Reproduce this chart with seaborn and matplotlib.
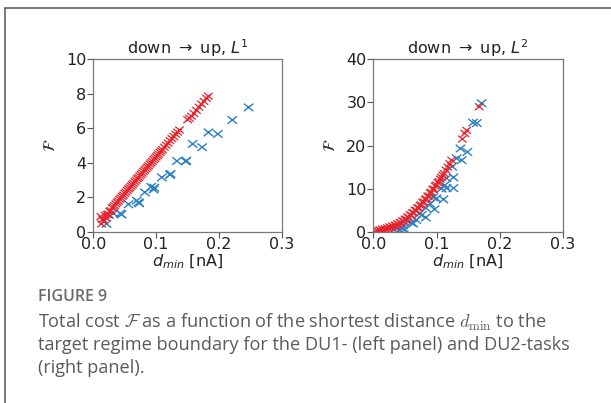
import matplotlib
matplotlib.use("Agg")
import matplotlib.pyplot as plt
from matplotlib.lines import Line2D
from matplotlib.path import Path
import seaborn as sns
import pandas as pd

# ---- DU1 task (L1 cost) ----
l1_red_d = [0.012, 0.013, 0.015, 0.017, 0.019, 0.020, 0.022, 0.024, 0.026, 0.028,
            0.030, 0.032, 0.034, 0.036, 0.038, 0.040, 0.042, 0.044, 0.046, 0.048,
            0.050, 0.052, 0.054, 0.056, 0.058, 0.060, 0.062, 0.064, 0.066, 0.068,
            0.070, 0.072, 0.074, 0.076, 0.078, 0.080, 0.082, 0.084, 0.086, 0.088,
            0.090, 0.092, 0.094, 0.096, 0.098, 0.100, 0.102, 0.104, 0.106, 0.108,
            0.110, 0.113, 0.116, 0.119, 0.122, 0.125, 0.128, 0.131, 0.134, 0.137,
            0.150, 0.153, 0.156, 0.160, 0.164, 0.168, 0.172, 0.176, 0.180, 0.183]
l1_red_F = [0.88, 0.45, 0.72, 0.62, 0.95, 0.80, 1.00, 1.02, 1.18, 1.22,
            1.38, 1.44, 1.52, 1.62, 1.71, 1.78, 1.88, 1.96, 2.05, 2.12,
            2.22, 2.30, 2.40, 2.48, 2.55, 2.64, 2.72, 2.80, 2.90, 2.98,
            3.08, 3.14, 3.24, 3.32, 3.40, 3.50, 3.58, 3.66, 3.75, 3.82,
            3.92, 4.00, 4.08, 4.18, 4.26, 4.34, 4.42, 4.50, 4.60, 4.68,
            4.76, 4.90, 5.02, 5.14, 5.28, 5.40, 5.52, 5.66, 5.78, 5.90,
            6.50, 6.58, 6.70, 6.86, 7.04, 7.22, 7.40, 7.56, 7.74, 7.86]
l1_blue_d = [0.021, 0.025, 0.032, 0.043, 0.045, 0.056, 0.069, 0.072, 0.073, 0.082,
             0.092, 0.096, 0.097, 0.109, 0.122, 0.123, 0.133, 0.147, 0.148, 0.158,
             0.173, 0.183, 0.198, 0.221, 0.247]
l1_blue_F = [0.45, 0.97, 1.07, 1.05, 1.00, 1.59, 1.80, 1.70, 1.65, 2.28,
             2.60, 2.45, 2.55, 3.15, 3.30, 3.35, 4.10, 4.08, 4.12, 5.09,
             4.90, 5.76, 5.67, 6.48, 7.21]

# ---- DU2 task (L2 cost) ----
l2_red_d = [0.003, 0.006, 0.008, 0.010, 0.012, 0.014, 0.016, 0.018, 0.020, 0.022,
            0.024, 0.026, 0.028, 0.030, 0.032, 0.034, 0.036, 0.038, 0.040, 0.042,
            0.044, 0.046, 0.048, 0.050, 0.052, 0.054, 0.056, 0.058, 0.060, 0.062,
            0.064, 0.066, 0.068, 0.070, 0.072, 0.074, 0.076, 0.078, 0.080, 0.082,
            0.084, 0.086, 0.088, 0.090, 0.092, 0.094, 0.096, 0.098, 0.100, 0.102,
            0.104, 0.106, 0.108, 0.110, 0.112, 0.115, 0.118, 0.121, 0.124, 0.141,
            0.145, 0.148, 0.168]
l2_red_F = [0.05, 0.30, 0.10, 0.45, 0.20, 0.60, 0.35, 0.70, 0.50, 0.90,
            0.70, 1.10, 0.90, 1.30, 1.10, 1.50, 1.40, 1.80, 1.70, 2.10,
            2.05, 2.50, 2.45, 2.90, 2.90, 3.40, 3.35, 3.90, 3.85, 4.40,
            4.40, 4.95, 4.95, 5.50, 5.55, 6.10, 6.20, 6.80, 6.90, 7.50,
            7.60, 8.20, 8.30, 9.00, 9.10, 9.80, 9.90, 10.60, 10.80, 11.40,
            11.60, 12.20, 12.60, 13.10, 13.50, 14.30, 15.00, 15.80, 16.60, 21.50,
            22.80, 23.50, 29.00]
l2_blue_d = [0.032, 0.037, 0.042, 0.045, 0.047, 0.050, 0.052, 0.060, 0.063, 0.068,
             0.073, 0.077, 0.083, 0.083, 0.090, 0.095, 0.097, 0.100, 0.108, 0.111,
             0.113, 0.116, 0.116, 0.125, 0.127, 0.127, 0.132, 0.138, 0.140, 0.149,
             0.158, 0.164, 0.1715]
l2_blue_F = [0.50, 1.00, 0.30, 0.80, 1.50, 0.50, 2.60, 2.10, 1.90, 2.70,
             4.20, 3.90, 5.50, 3.30, 6.50, 8.00, 5.20, 7.70, 10.00, 7.50,
             10.80, 12.40, 10.10, 15.10, 12.60, 10.10, 17.00, 19.30, 16.60, 18.50,
             25.30, 25.20, 29.80]

# panel settings
titles = [r"down $\rightarrow$ up, $L^1$", r"down $\rightarrow$ up, $L^2$"]
x_ticks = [0.0, 0.1, 0.2, 0.3]
y_ticks = [[0, 2, 4, 6, 8, 10], [0, 10, 20, 30, 40]]

BLUE = "#2b7fc3"
RED = "#e8222a"

# a slightly wide "x" marker
WIDE_X = Path([(-1.25, -1), (1.25, 1), (-1.25, 1), (1.25, -1)],
              [Path.MOVETO, Path.LINETO, Path.MOVETO, Path.LINETO])

sns.set_style("ticks")
plt.rcParams["font.family"] = ["DejaVu Sans"]
plt.rcParams["font.sans-serif"] = ["DejaVu Sans"]

fig = plt.figure(figsize=(6.11, 4.03), dpi=100)
W, H = 611, 403


def px_axes(x0, y0, x1, y1):
    return fig.add_axes([x0 / W, 1 - y1 / H, (x1 - x0) / W, (y1 - y0) / H])


ax1 = px_axes(93.3, 59.3, 282.0, 231.7)
ax2 = px_axes(373.5, 59.3, 562.5, 231.7)

panels = [
    (ax1, l1_blue_d, l1_blue_F, l1_red_d, l1_red_F),
    (ax2, l2_blue_d, l2_blue_F, l2_red_d, l2_red_F),
]

FS = 11.5
for i, (ax, bd, bF, rd, rF) in enumerate(panels):
    blue = pd.DataFrame({"d": bd, "F": bF})
    red = pd.DataFrame({"d": rd, "F": rF})
    sns.scatterplot(data=blue, x="d", y="F", ax=ax, marker=WIDE_X,
                    facecolor="none", edgecolor=BLUE, s=46, linewidth=1.0)
    sns.scatterplot(data=red, x="d", y="F", ax=ax, marker=WIDE_X,
                    facecolor="none", edgecolor=RED, s=38, linewidth=0.9)
    ax.set_xlim(0, 0.3)
    ax.set_ylim(0, y_ticks[i][-1])
    ax.set_xticks(x_ticks)
    ax.set_yticks(y_ticks[i])
    ax.set_xticklabels([f"{t:.1f}" for t in x_ticks])
    ax.set_yticklabels([str(t) for t in y_ticks[i]])
    ax.tick_params(labelsize=FS, colors="#222222", length=4, width=0.8,
                   color="#555555", pad=1)
    ax.tick_params(axis="x", pad=0)
    for sp in ax.spines.values():
        sp.set_visible(True)
        sp.set_color("#777777")
        sp.set_linewidth(0.9)
    ax.set_title(titles[i], fontsize=FS, color="#222222", pad=4)
    ax.set_xlabel(r"$d_{min}$ [nA]", fontsize=FS, color="#222222", labelpad=0)
    ax.set_ylabel(r"$\mathcal{F}$", fontsize=FS, color="#222222", labelpad=6)

# frame around the figure block
fig.add_artist(Line2D([4.5 / W, 4.5 / W], [0, 1 - 7.5 / H],
                      transform=fig.transFigure, color="#555555", lw=1.1))
fig.add_artist(Line2D([4.5 / W, 1], [1 - 7.5 / H, 1 - 7.5 / H],
                      transform=fig.transFigure, color="#555555", lw=1.1))

# caption
cap_font = ["Open Sans", "DejaVu Sans"]
fig.text(38 / W, 1 - 297 / H, "FIGURE 9", fontsize=11.5, fontweight="semibold",
         color="#6a6a6a", family=cap_font, va="center", ha="left")
caption = [
    r"Total cost $\mathcal{F}$ as a function of the shortest distance $d_{\mathrm{min}}$ to the",
    "target regime boundary for the DU1- (left panel) and DU2-tasks",
    "(right panel).",
]
for k, line in enumerate(caption):
    fig.text(38 / W, 1 - (322 + 23 * k) / H, line, fontsize=13.1,
             color="#5a5a5a", family=cap_font, va="center", ha="left",
             math_fontfamily="cm")

fig.savefig("out.png", dpi=100)
